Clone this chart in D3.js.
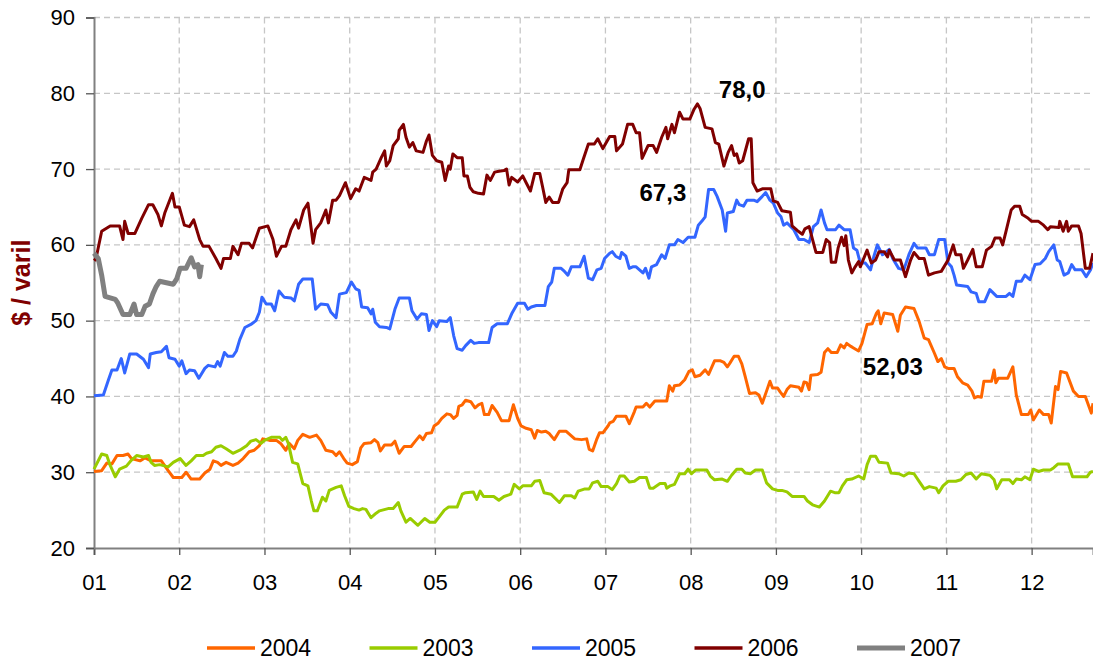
<!DOCTYPE html>
<html>
<head>
<meta charset="utf-8">
<script src="https://cdn.jsdelivr.net/npm/d3@7"></script>
<style>
  body { margin: 0; background: #fff; }
  svg { display: block; font-family: "Liberation Sans", Arial, sans-serif; }
</style>
</head>
<body>
<div id="chart"></div>
<script>
// month labels on the x axis (position 0 = "01")
const MONTHS = ["01", "02", "03", "04", "05", "06", "07", "08", "09", "10", "11", "12"];
const Y_TICKS = [20, 30, 40, 50, 60, 70, 80, 90];

const YEARS = ["2004", "2003", "2005", "2006", "2007"];
const COLORS = ["#ff6600", "#99cc00", "#3366ff", "#800000", "#808080"];

// [month position, $ / varil]
const s2004 = [[0.00,30.1],[0.09,30.2],[0.15,31.2],[0.21,31.1],[0.27,32.2],[0.34,32.2],[0.40,32.4],[0.44,31.8],[0.54,31.5],[0.60,31.9],[0.67,31.5],[0.79,31.5],[0.87,30.2],[0.93,29.3],[1.03,29.3],[1.08,30.0],[1.14,29.1],[1.24,29.1],[1.30,29.9],[1.36,30.4],[1.40,31.5],[1.45,31.3],[1.49,30.9],[1.55,31.3],[1.63,30.9],[1.69,31.2],[1.75,31.8],[1.82,32.7],[1.88,32.9],[1.94,33.5],[1.98,34.4],[2.06,34.2],[2.14,34.2],[2.19,33.8],[2.25,32.9],[2.29,33.8],[2.35,33.1],[2.39,34.2],[2.45,35.0],[2.53,34.6],[2.61,34.9],[2.66,34.2],[2.72,32.9],[2.80,32.7],[2.84,32.2],[2.88,32.7],[2.93,31.8],[2.97,31.2],[3.03,31.0],[3.09,31.4],[3.13,33.2],[3.17,33.8],[3.25,33.9],[3.29,34.3],[3.33,33.9],[3.36,32.8],[3.41,33.6],[3.49,33.6],[3.53,34.1],[3.58,32.5],[3.64,33.4],[3.72,33.4],[3.77,34.1],[3.82,34.8],[3.86,34.3],[3.90,35.1],[3.96,35.2],[3.99,36.1],[4.04,36.5],[4.08,37.1],[4.14,37.7],[4.18,37.6],[4.22,37.1],[4.26,37.5],[4.28,38.7],[4.32,38.9],[4.36,39.5],[4.42,39.3],[4.47,38.5],[4.51,38.9],[4.55,39.1],[4.58,37.6],[4.63,37.6],[4.67,38.8],[4.73,37.9],[4.78,36.8],[4.87,36.8],[4.92,38.9],[4.97,37.1],[5.01,36.1],[5.07,35.8],[5.13,35.6],[5.17,34.5],[5.20,35.5],[5.25,35.3],[5.30,35.4],[5.34,35.1],[5.40,34.3],[5.46,35.4],[5.54,35.4],[5.60,34.8],[5.64,34.4],[5.72,34.3],[5.78,34.4],[5.81,33.0],[5.85,32.8],[5.90,34.4],[5.93,35.2],[5.97,35.2],[6.03,36.1],[6.05,36.5],[6.09,36.7],[6.13,37.4],[6.24,37.4],[6.28,36.4],[6.34,38.0],[6.36,38.6],[6.44,38.6],[6.48,39.1],[6.52,38.6],[6.58,39.4],[6.72,39.4],[6.75,41.4],[6.79,40.7],[6.81,41.4],[6.87,41.5],[6.93,42.2],[6.98,43.3],[7.02,43.5],[7.05,42.6],[7.11,42.8],[7.17,43.5],[7.21,42.9],[7.28,44.7],[7.35,44.7],[7.39,44.5],[7.43,43.9],[7.46,44.4],[7.51,45.3],[7.56,45.3],[7.60,44.3],[7.64,42.6],[7.69,40.4],[7.76,40.5],[7.80,40.2],[7.84,39.1],[7.89,40.7],[7.93,42.0],[7.96,41.1],[8.02,41.1],[8.05,40.6],[8.09,40.0],[8.13,40.9],[8.17,41.4],[8.27,41.2],[8.30,40.7],[8.33,41.9],[8.36,41.8],[8.39,40.9],[8.41,42.8],[8.49,42.9],[8.53,43.2],[8.57,45.8],[8.61,46.3],[8.65,45.8],[8.72,45.8],[8.76,46.8],[8.80,46.4],[8.83,47.0],[8.88,46.6],[8.91,46.4],[8.97,46.0],[9.01,47.0],[9.07,49.5],[9.13,49.6],[9.18,51.0],[9.20,51.3],[9.23,49.6],[9.27,51.0],[9.37,50.8],[9.43,48.6],[9.46,50.7],[9.52,51.8],[9.62,51.6],[9.68,49.9],[9.74,47.7],[9.79,47.5],[9.86,45.7],[9.90,44.6],[9.94,45.0],[9.98,43.9],[10.02,43.7],[10.09,43.7],[10.13,42.6],[10.19,41.8],[10.25,41.5],[10.30,40.7],[10.33,39.8],[10.37,40.0],[10.41,39.9],[10.44,42.0],[10.53,42.0],[10.56,43.5],[10.58,41.8],[10.61,42.4],[10.72,42.4],[10.78,43.9],[10.82,40.2],[10.88,37.6],[10.96,37.6],[10.99,38.2],[11.02,36.9],[11.09,38.2],[11.14,37.6],[11.20,37.6],[11.23,36.5],[11.28,41.3],[11.31,40.9],[11.34,43.3],[11.41,43.1],[11.49,40.7],[11.55,40.0],[11.63,40.0],[11.70,37.8],[11.72,39.1]];

const s2003 = [[0.00,30.4],[0.09,32.4],[0.15,32.2],[0.19,30.9],[0.25,29.4],[0.30,30.4],[0.38,30.8],[0.44,31.6],[0.50,32.2],[0.58,32.0],[0.64,32.2],[0.67,31.3],[0.71,30.9],[0.77,31.0],[0.87,30.7],[0.93,31.3],[1.01,31.8],[1.08,30.9],[1.14,31.5],[1.20,32.2],[1.28,32.2],[1.32,32.5],[1.38,32.7],[1.43,33.3],[1.49,33.5],[1.55,33.1],[1.63,32.5],[1.71,32.9],[1.79,33.5],[1.84,34.1],[1.90,34.3],[1.96,33.8],[2.00,34.2],[2.08,34.6],[2.18,34.6],[2.21,34.2],[2.25,34.6],[2.28,33.8],[2.33,31.3],[2.39,31.1],[2.45,28.5],[2.51,28.2],[2.55,26.2],[2.58,24.9],[2.62,24.9],[2.68,26.7],[2.72,26.2],[2.76,27.6],[2.84,28.0],[2.90,28.2],[2.94,26.9],[2.99,25.5],[3.05,25.2],[3.11,25.0],[3.15,25.2],[3.19,25.1],[3.25,24.0],[3.31,24.6],[3.35,24.9],[3.45,25.2],[3.51,25.2],[3.57,26.0],[3.60,24.9],[3.66,23.4],[3.71,23.9],[3.80,23.0],[3.88,23.9],[3.94,23.4],[4.00,23.4],[4.05,24.1],[4.11,25.0],[4.16,25.4],[4.26,25.4],[4.32,27.1],[4.36,27.3],[4.45,27.4],[4.49,26.4],[4.53,27.5],[4.57,26.8],[4.69,26.8],[4.75,26.3],[4.81,26.8],[4.89,27.1],[4.93,28.4],[4.99,27.8],[5.03,28.2],[5.13,28.2],[5.17,28.8],[5.23,28.9],[5.28,27.3],[5.36,27.1],[5.46,26.0],[5.52,26.9],[5.60,26.9],[5.64,26.6],[5.68,27.5],[5.76,27.8],[5.81,27.8],[5.85,28.6],[5.91,28.8],[5.95,28.1],[6.03,28.1],[6.08,27.7],[6.13,28.5],[6.17,29.5],[6.22,29.5],[6.28,28.7],[6.34,28.8],[6.40,29.3],[6.48,29.3],[6.52,27.9],[6.56,27.9],[6.64,28.5],[6.70,28.5],[6.72,27.9],[6.76,28.2],[6.81,28.4],[6.87,29.8],[6.93,29.8],[6.97,30.4],[7.01,29.8],[7.06,30.3],[7.19,30.3],[7.23,29.5],[7.28,29.0],[7.37,29.1],[7.43,28.8],[7.48,29.6],[7.54,30.4],[7.60,30.4],[7.64,29.9],[7.70,29.8],[7.76,30.3],[7.84,30.3],[7.89,28.6],[7.96,27.8],[8.02,27.6],[8.07,27.6],[8.13,27.4],[8.19,26.8],[8.33,26.8],[8.37,26.2],[8.43,25.7],[8.51,25.4],[8.57,26.2],[8.64,27.5],[8.69,27.3],[8.74,27.3],[8.78,28.2],[8.83,29.0],[8.89,29.1],[8.97,29.5],[9.03,29.1],[9.07,31.0],[9.11,32.1],[9.17,32.1],[9.21,31.3],[9.31,31.2],[9.35,29.9],[9.44,29.8],[9.50,29.5],[9.56,29.9],[9.62,29.8],[9.68,28.8],[9.74,27.8],[9.80,28.1],[9.88,27.9],[9.91,27.3],[9.96,28.2],[10.02,28.8],[10.11,28.8],[10.17,29.0],[10.23,29.7],[10.29,29.9],[10.35,29.1],[10.41,29.8],[10.51,29.6],[10.56,29.0],[10.59,27.8],[10.65,29.0],[10.74,29.0],[10.78,28.5],[10.82,29.1],[10.88,29.0],[10.92,29.4],[10.98,29.0],[11.02,30.4],[11.08,30.1],[11.14,30.3],[11.22,30.3],[11.26,30.6],[11.31,31.1],[11.43,31.1],[11.48,29.4],[11.65,29.4],[11.69,30.0],[11.72,30.1]];

const s2005 = [[0.00,40.1],[0.11,40.2],[0.17,42.2],[0.21,43.5],[0.27,43.5],[0.32,45.0],[0.36,43.1],[0.42,45.6],[0.50,45.6],[0.58,44.9],[0.64,43.8],[0.66,45.6],[0.73,45.8],[0.79,45.9],[0.85,46.6],[0.88,45.1],[0.95,44.9],[1.00,44.0],[1.03,44.7],[1.08,43.0],[1.12,43.5],[1.18,43.4],[1.23,42.4],[1.30,43.7],[1.34,44.1],[1.42,43.9],[1.45,44.6],[1.48,44.0],[1.53,45.8],[1.57,45.3],[1.63,45.3],[1.67,46.0],[1.71,47.5],[1.77,49.1],[1.84,49.5],[1.90,50.0],[1.94,51.1],[1.97,53.1],[2.02,52.2],[2.08,52.2],[2.12,51.3],[2.17,53.9],[2.23,53.1],[2.31,53.0],[2.35,52.6],[2.40,54.8],[2.45,55.5],[2.56,55.5],[2.60,51.5],[2.66,52.2],[2.74,52.1],[2.78,51.1],[2.84,50.4],[2.88,53.5],[2.96,53.7],[3.02,55.1],[3.07,54.2],[3.11,54.0],[3.14,51.8],[3.21,51.7],[3.25,50.9],[3.27,51.5],[3.30,49.8],[3.35,49.2],[3.43,49.1],[3.47,48.9],[3.53,51.5],[3.58,53.0],[3.70,53.0],[3.73,51.3],[3.79,50.2],[3.84,50.9],[3.90,50.8],[3.93,48.7],[3.97,50.0],[4.02,49.2],[4.05,50.0],[4.14,49.9],[4.18,50.4],[4.22,48.0],[4.26,46.3],[4.32,46.1],[4.36,46.7],[4.42,47.4],[4.46,47.0],[4.51,47.1],[4.63,47.1],[4.67,49.1],[4.73,49.6],[4.85,49.6],[4.90,50.9],[4.97,52.3],[5.05,52.3],[5.09,51.5],[5.13,51.8],[5.19,52.0],[5.29,52.0],[5.33,54.5],[5.37,55.1],[5.40,56.9],[5.48,56.9],[5.52,56.5],[5.56,56.0],[5.60,57.1],[5.70,57.1],[5.75,58.5],[5.80,55.6],[5.85,55.4],[5.90,56.7],[5.95,56.9],[5.99,58.2],[6.05,58.9],[6.08,59.1],[6.12,58.5],[6.17,58.2],[6.19,59.0],[6.24,58.5],[6.28,56.9],[6.32,57.1],[6.36,57.1],[6.40,56.7],[6.44,56.3],[6.47,56.9],[6.51,55.6],[6.54,57.1],[6.60,57.4],[6.66,58.7],[6.70,58.2],[6.75,60.0],[6.81,60.0],[6.85,60.7],[6.91,60.3],[6.97,61.0],[7.05,61.0],[7.09,62.6],[7.13,63.1],[7.17,63.7],[7.21,67.3],[7.27,67.3],[7.31,66.4],[7.37,64.6],[7.41,61.8],[7.43,64.2],[7.50,64.4],[7.54,65.9],[7.57,65.3],[7.62,65.1],[7.66,65.9],[7.74,65.9],[7.78,65.7],[7.84,66.4],[7.88,66.9],[7.93,65.9],[7.97,65.5],[8.02,64.2],[8.06,63.7],[8.09,62.6],[8.13,62.9],[8.21,62.0],[8.27,60.7],[8.33,60.7],[8.39,60.3],[8.44,62.4],[8.49,62.9],[8.53,64.6],[8.57,62.9],[8.60,62.0],[8.70,62.0],[8.74,62.6],[8.80,62.0],[8.87,62.0],[8.91,59.6],[8.95,59.3],[8.99,57.6],[9.05,57.6],[9.11,56.7],[9.15,58.5],[9.19,60.0],[9.25,58.7],[9.33,59.4],[9.37,58.2],[9.44,56.9],[9.50,56.7],[9.56,58.7],[9.62,60.2],[9.66,59.6],[9.76,59.6],[9.80,58.7],[9.86,58.7],[9.91,60.7],[9.98,60.7],[10.02,57.6],[10.06,57.1],[10.09,56.0],[10.12,54.7],[10.25,54.5],[10.29,53.8],[10.35,53.6],[10.38,52.5],[10.45,52.5],[10.51,54.1],[10.59,53.2],[10.70,53.2],[10.74,53.6],[10.78,53.2],[10.82,55.2],[10.88,55.2],[10.92,56.0],[10.98,55.4],[11.04,57.4],[11.10,57.5],[11.16,58.2],[11.20,59.1],[11.26,60.0],[11.30,58.0],[11.33,57.8],[11.38,56.0],[11.43,56.3],[11.47,57.4],[11.51,56.7],[11.59,56.7],[11.64,55.8],[11.69,56.7],[11.72,57.6]];

const s2006 = [[0.00,58.2],[0.02,58.0],[0.09,61.8],[0.19,62.5],[0.30,62.5],[0.34,60.7],[0.36,63.1],[0.40,61.5],[0.48,61.5],[0.56,63.5],[0.64,65.3],[0.69,65.3],[0.75,64.0],[0.79,62.5],[0.83,64.2],[0.92,66.8],[0.95,65.0],[1.00,65.0],[1.06,62.6],[1.12,62.4],[1.17,63.3],[1.24,60.7],[1.28,59.8],[1.35,59.8],[1.43,58.2],[1.49,56.9],[1.52,58.2],[1.60,58.2],[1.63,59.8],[1.69,58.7],[1.73,60.2],[1.82,60.2],[1.86,59.6],[1.94,62.2],[2.04,62.5],[2.10,60.7],[2.14,58.5],[2.20,59.8],[2.25,59.8],[2.31,62.0],[2.37,63.3],[2.40,62.2],[2.46,64.6],[2.51,65.5],[2.57,60.2],[2.60,62.0],[2.66,62.9],[2.72,64.6],[2.75,62.9],[2.80,65.9],[2.84,65.9],[2.88,66.5],[2.95,68.2],[3.01,66.1],[3.07,67.4],[3.11,67.1],[3.17,68.9],[3.25,68.5],[3.27,69.6],[3.31,70.0],[3.37,71.5],[3.41,72.4],[3.43,70.4],[3.47,71.1],[3.51,73.1],[3.57,74.0],[3.58,75.1],[3.63,75.9],[3.66,74.2],[3.70,72.9],[3.74,73.5],[3.78,72.4],[3.86,72.2],[3.90,73.7],[3.93,74.5],[3.97,71.8],[4.02,71.1],[4.08,70.9],[4.12,68.5],[4.16,70.4],[4.18,70.0],[4.21,72.0],[4.26,71.5],[4.32,71.5],[4.34,69.1],[4.38,69.1],[4.41,67.6],[4.45,67.0],[4.51,66.8],[4.57,66.7],[4.61,69.2],[4.65,68.5],[4.70,69.6],[4.75,69.7],[4.81,69.8],[4.84,70.0],[4.87,67.9],[4.90,68.9],[4.97,68.3],[5.03,69.1],[5.07,68.2],[5.12,67.1],[5.17,69.4],[5.23,69.4],[5.26,67.8],[5.30,65.6],[5.34,66.3],[5.38,65.6],[5.45,65.6],[5.50,67.4],[5.55,68.2],[5.57,69.9],[5.70,69.9],[5.74,71.3],[5.80,73.3],[5.87,73.3],[5.91,74.0],[5.97,72.7],[6.05,74.3],[6.11,74.3],[6.13,72.4],[6.20,73.3],[6.26,75.9],[6.32,75.9],[6.36,74.8],[6.40,74.8],[6.43,71.4],[6.50,73.1],[6.56,73.1],[6.60,72.2],[6.66,74.2],[6.71,75.5],[6.73,74.0],[6.78,75.9],[6.81,74.8],[6.87,77.5],[6.91,76.6],[6.99,76.6],[7.04,77.9],[7.08,78.6],[7.11,78.0],[7.17,75.5],[7.25,75.3],[7.29,73.5],[7.33,73.3],[7.39,70.4],[7.44,72.2],[7.48,73.1],[7.51,71.8],[7.54,72.0],[7.57,70.8],[7.61,71.1],[7.68,74.0],[7.71,74.0],[7.73,68.2],[7.78,67.1],[7.84,67.4],[7.94,67.4],[7.97,65.8],[8.02,65.6],[8.07,64.5],[8.17,64.3],[8.19,62.5],[8.25,61.9],[8.31,61.4],[8.34,62.1],[8.39,62.4],[8.43,60.7],[8.47,59.0],[8.55,59.0],[8.59,60.7],[8.63,60.3],[8.65,57.7],[8.70,57.7],[8.73,59.6],[8.77,61.0],[8.80,59.9],[8.82,61.2],[8.85,58.0],[8.89,56.3],[8.93,57.1],[8.97,57.8],[8.99,57.1],[9.07,59.3],[9.12,57.6],[9.17,58.0],[9.21,59.1],[9.27,59.1],[9.31,58.4],[9.33,59.3],[9.39,58.0],[9.46,58.0],[9.52,55.8],[9.58,58.0],[9.62,59.0],[9.68,58.2],[9.74,58.2],[9.79,56.0],[9.86,56.3],[9.94,56.5],[10.02,58.0],[10.08,60.0],[10.11,58.7],[10.17,58.7],[10.20,56.9],[10.25,58.0],[10.31,59.4],[10.35,57.1],[10.42,57.1],[10.47,59.3],[10.53,59.8],[10.57,60.9],[10.63,60.9],[10.66,60.0],[10.70,61.8],[10.76,64.6],[10.80,65.1],[10.86,65.1],[10.89,64.0],[10.96,63.5],[11.00,63.1],[11.08,63.1],[11.14,62.6],[11.19,62.0],[11.22,62.4],[11.32,62.3],[11.33,63.1],[11.37,61.8],[11.41,63.1],[11.43,61.8],[11.47,62.5],[11.55,62.5],[11.58,61.5],[11.63,56.9],[11.68,56.9],[11.72,58.9]];

const s2007 = [[0.00,58.9],[0.05,58.2],[0.09,56.0],[0.13,53.2],[0.19,53.0],[0.25,52.8],[0.28,52.3],[0.34,50.8],[0.42,50.8],[0.47,52.2],[0.50,50.8],[0.56,50.8],[0.60,51.9],[0.65,52.2],[0.69,53.5],[0.73,54.5],[0.77,55.2],[0.85,55.0],[0.93,54.8],[0.97,55.5],[1.01,56.9],[1.08,56.9],[1.14,58.3],[1.18,57.1],[1.22,57.4],[1.24,55.8],[1.26,57.4]];

const SERIES = [s2004, s2003, s2005, s2006, s2007];

// value labels: [month position, value, text]
const NOTES = [[7.33, 79.35, "78,0"], [6.40, 65.85, "67,3"], [9.02, 42.87, "52,03"]];

const WIDTH = 1093;
const HEIGHT = 660;
const MARGIN = { TOP: 17.5, RIGHT: 0, BOTTOM: 112, LEFT: 94 };

const SVG = d3.select("#chart").append("svg")
  .attr("width", WIDTH)
  .attr("height", HEIGHT);

const X_SCALE = d3.scaleLinear()
  .domain([0, 11.72])
  .range([MARGIN.LEFT, WIDTH - MARGIN.RIGHT]);

const Y_SCALE = d3.scaleLinear()
  .domain([20, 90])
  .range([HEIGHT - MARGIN.BOTTOM - 0, MARGIN.TOP]);

// grid
const GRID = SVG.append("g")
  .attr("stroke", "#c6c6c6")
  .attr("stroke-width", 1.3)
  .attr("stroke-dasharray", "6,4");

GRID.selectAll(".h")
  .data(Y_TICKS.slice(1))
  .enter()
  .append("line")
  .attr("x1", X_SCALE(0))
  .attr("x2", WIDTH)
  .attr("y1", (d) => Y_SCALE(d))
  .attr("y2", (d) => Y_SCALE(d));

GRID.selectAll(".v")
  .data(d3.range(1, MONTHS.length))
  .enter()
  .append("line")
  .attr("x1", (d) => X_SCALE(d))
  .attr("x2", (d) => X_SCALE(d))
  .attr("y1", Y_SCALE(90))
  .attr("y2", Y_SCALE(20));

// axes
const X_AXIS = d3.axisBottom(X_SCALE)
  .tickValues(d3.range(MONTHS.length))
  .tickFormat((d) => MONTHS[d])
  .tickSize(7)
  .tickPadding(19);

const Y_AXIS = d3.axisLeft(Y_SCALE)
  .tickValues(Y_TICKS)
  .tickSize(8)
  .tickPadding(11);

const XG = SVG.append("g")
  .attr("transform", "translate(0, " + Y_SCALE(20) + ")")
  .call(X_AXIS);

const YG = SVG.append("g")
  .attr("transform", "translate(" + X_SCALE(0) + ", 0)")
  .call(Y_AXIS);

[XG, YG].forEach((g) => {
  g.select(".domain").attr("stroke", "#808080").attr("stroke-width", 2);
  g.selectAll(".tick line").attr("stroke", "#555").attr("stroke-width", 1.3);
  g.selectAll(".tick text")
    .attr("fill", "#000")
    .style("font-size", "22px")
    .style("font-family", "'Liberation Sans', Arial, sans-serif");
});

SVG.append("text")
  .attr("transform", "translate(30, " + Y_SCALE(55) + ") rotate(-90)")
  .attr("text-anchor", "middle")
  .attr("fill", "#800000")
  .style("font-size", "25px")
  .style("font-weight", "bold")
  .text("$ / varil");

// series lines
const LINE = d3.line()
  .x((d) => X_SCALE(d[0]))
  .y((d) => Y_SCALE(d[1]));

SVG.append("g")
  .selectAll("path")
  .data(SERIES)
  .enter()
  .append("path")
  .attr("d", (d) => LINE(d))
  .attr("fill", "none")
  .attr("stroke", (d, i) => COLORS[i])
  .attr("stroke-width", (d, i) => (i === 4 ? 5 : 3))
  .attr("stroke-linejoin", "round");

// value labels
SVG.selectAll(".note")
  .data(NOTES)
  .enter()
  .append("text")
  .attr("x", (d) => X_SCALE(d[0]))
  .attr("y", (d) => Y_SCALE(d[1]))
  .attr("fill", "#000")
  .style("font-size", "24px")
  .style("font-weight", "bold")
  .text((d) => d[2]);

// legend
const LEGEND = SVG.append("g")
  .selectAll("g")
  .data(YEARS)
  .enter()
  .append("g")
  .attr("transform", (d, i) => "translate(" + (207 + i * 162.5) + ", 648)");

LEGEND.append("line")
  .attr("x1", 0)
  .attr("x2", 48)
  .attr("stroke", (d, i) => COLORS[i])
  .attr("stroke-width", (d, i) => (i === 4 ? 5 : 3.5));

LEGEND.append("text")
  .attr("x", 53)
  .attr("y", 8)
  .attr("fill", "#000")
  .style("font-size", "23px")
  .text((d) => d);
</script>
</body>
</html>
